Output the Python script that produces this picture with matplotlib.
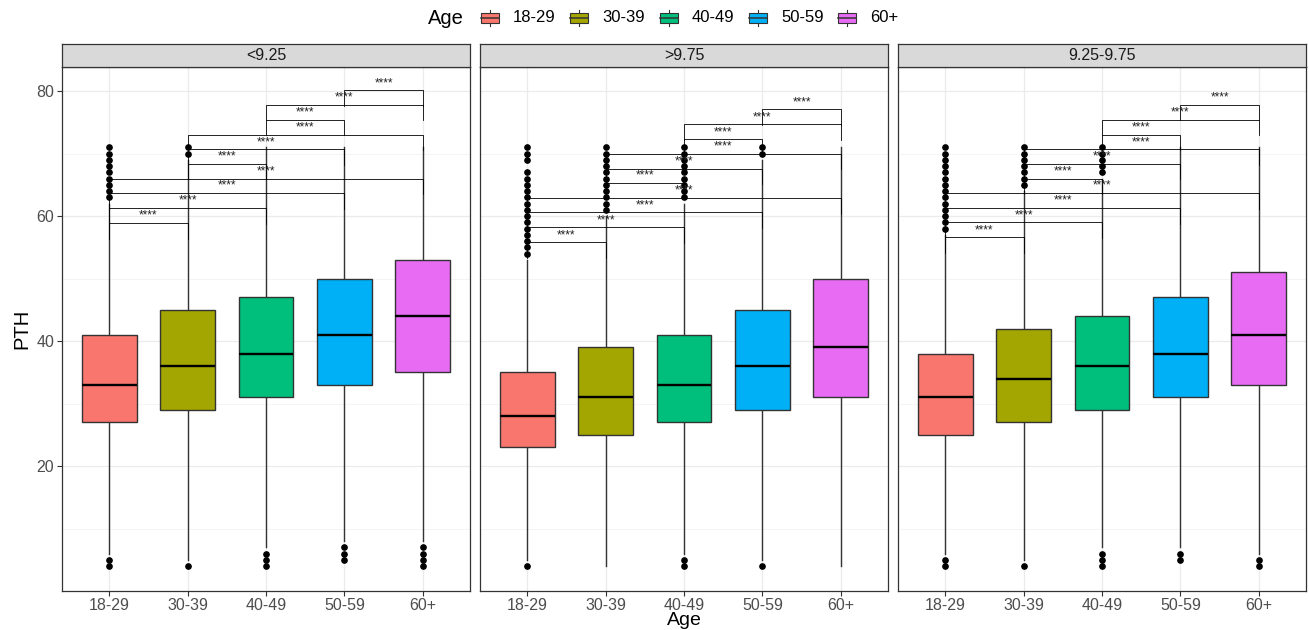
import matplotlib
matplotlib.use('Agg')
import matplotlib.pyplot as plt
from matplotlib.patches import Rectangle

plt.rcParams['font.family'] = ['Liberation Sans', 'DejaVu Sans']

groups = ['18-29', '30-39', '40-49', '50-59', '60+']
colors = ['#F8766D', '#A3A500', '#00BF7D', '#00B0F6', '#E76BF3']
panels = ['<9.25', '>9.75', '9.25-9.75']

# box statistics, per panel
q1 = {'<9.25': [27, 29, 31, 33, 35], '>9.75': [23, 25, 27, 29, 31], '9.25-9.75': [25, 27, 29, 31, 33]}
med = {'<9.25': [33, 36, 38, 41, 44], '>9.75': [28, 31, 33, 36, 39], '9.25-9.75': [31, 34, 36, 38, 41]}
q3 = {'<9.25': [41, 45, 47, 50, 53], '>9.75': [35, 39, 41, 45, 50], '9.25-9.75': [38, 42, 44, 47, 51]}
whislo = {'<9.25': [6, 5, 7, 8, 8], '>9.75': [5, 4, 6, 5, 4], '9.25-9.75': [6, 5, 7, 7, 6]}
whishi = {'<9.25': [62, 69, 71, 71, 71], '>9.75': [53, 60, 62, 69, 71], '9.25-9.75': [57, 64, 66, 71, 71]}
outliers = {
    '<9.25': [[4, 5, 63, 64, 65, 66, 67, 68, 69, 70, 71],
              [4, 70, 71],
              [4, 5, 6],
              [5, 6, 7],
              [4, 5, 6, 7]],
    '>9.75': [[4, 54, 55, 56, 57, 58, 59, 60, 61, 62, 63, 64, 65, 66, 67, 69, 70, 71],
              [61, 62, 63, 64, 65, 66, 67, 68, 69, 70, 71],
              [4, 5, 63, 64, 65, 66, 67, 68, 69, 70, 71],
              [4, 70, 71],
              []],
    '9.25-9.75': [[4, 5, 58, 59, 60, 61, 62, 63, 64, 65, 66, 67, 68, 69, 70, 71],
                  [4, 65, 66, 67, 68, 69, 70, 71],
                  [4, 5, 6, 67, 68, 69, 70, 71],
                  [5, 6],
                  [4, 5]],
}

# pairwise comparisons (group index pairs) and bracket heights
comparisons = [(0, 1), (0, 2), (0, 3), (0, 4), (1, 2), (1, 3), (1, 4), (2, 3), (2, 4), (3, 4)]
bracket_y = {
    '<9.25': [58.9, 61.3, 63.7, 66.0, 68.4, 70.7, 73.0, 75.4, 77.8, 80.1],
    '>9.75': [55.8, 58.2, 60.6, 62.9, 65.3, 67.6, 70.0, 72.3, 74.7, 77.1],
    '9.25-9.75': [56.6, 59.0, 61.3, 63.7, 66.0, 68.4, 70.7, 73.0, 75.4, 77.8],
}
sig_label = '****'

W, H = 1309, 630
fig = plt.figure(figsize=(W / 100, H / 100), dpi=100)

panel_left = [62, 480, 898]
panel_w = 408
panel_top, panel_bot = 66.7, 590.7
strip_h = 23

for k, p in enumerate(panels):
    ax = fig.add_axes([panel_left[k] / W, 1 - panel_bot / H, panel_w / W, (panel_bot - panel_top) / H])
    stats = []
    for i, g in enumerate(groups):
        stats.append(dict(q1=q1[p][i], med=med[p][i], q3=q3[p][i],
                          whislo=whislo[p][i], whishi=whishi[p][i],
                          fliers=outliers[p][i], label=g))
    bp = ax.bxp(stats, positions=range(1, 6), widths=0.7, patch_artist=True,
                showcaps=False,
                boxprops=dict(edgecolor='#333333', linewidth=1.0),
                medianprops=dict(color='black', linewidth=1.7),
                whiskerprops=dict(color='#333333', linewidth=1.0),
                flierprops=dict(marker='o', markerfacecolor='black', markeredgecolor='black',
                                markersize=3.8, linestyle='none'))
    for patch, c in zip(bp['boxes'], colors):
        patch.set_facecolor(c)
    for w in bp['whiskers']:
        w.set_zorder(1)

    # significance brackets
    tip = 2.5
    for (a, b), yb in zip(comparisons, bracket_y[p]):
        xa, xb = a + 1, b + 1
        ax.plot([xa, xa, xb, xb], [yb - tip, yb, yb, yb - tip], color='black', lw=0.6, zorder=3)
        ax.text((xa + xb) / 2, yb + 0.2, sig_label, ha='center', va='bottom', fontsize=8.5,
                color='#222222', zorder=4)

    ax.set_xlim(0.4, 5.6)
    ax.set_ylim(0.05, 83.9)
    ax.set_yticks([20, 40, 60, 80])
    ax.set_yticks([10, 30, 50, 70], minor=True)
    ax.set_xticks(range(1, 6))
    ax.set_xticklabels(groups)
    ax.grid(True, which='major', color='#EBEBEB', lw=0.9, zorder=0)
    ax.grid(True, which='minor', axis='y', color='#F2F2F2', lw=0.6, zorder=0)
    ax.set_axisbelow(True)
    ax.tick_params(axis='both', which='major', length=3.5, width=0.8, color='#333333',
                   labelcolor='#4D4D4D', labelsize=11.5, pad=2)
    ax.tick_params(axis='both', which='minor', length=0)
    if k > 0:
        ax.tick_params(axis='y', which='major', labelleft=False, length=0)
    for s in ax.spines.values():
        s.set_color('#333333')
        s.set_linewidth(0.9)
    if k == 0:
        ax.set_ylabel('PTH', fontsize=14.5, labelpad=4)
    if k == 1:
        ax.set_xlabel('Age', fontsize=14)
        ax.xaxis.set_label_coords(0.5, -0.041)

    sax = fig.add_axes([panel_left[k] / W, 1 - panel_top / H, panel_w / W, strip_h / H])
    sax.set_facecolor('#D9D9D9')
    sax.set_xticks([])
    sax.set_yticks([])
    for s in sax.spines.values():
        s.set_color('#333333')
        s.set_linewidth(0.9)
    sax.text(0.5, 0.5, p, ha='center', va='center', fontsize=11.5, color='#1A1A1A',
             transform=sax.transAxes)

# legend drawn in a pixel-space band at the top
lax = fig.add_axes([0, 1 - 38 / H, 1, 38 / H])
lax.set_xlim(0, W)
lax.set_ylim(38, 0)
lax.axis('off')
lax.text(428, 18, 'Age', ha='left', va='center', fontsize=14.5)
key_x0, key_step, key_w, key_h, yc = 481, 89.3, 18, 10, 18
for i, (g, c) in enumerate(zip(groups, colors)):
    x = key_x0 + i * key_step
    lax.plot([x + key_w / 2] * 2, [yc - 8, yc + 8], color='#333333', lw=0.8)
    lax.add_patch(Rectangle((x, yc - key_h / 2), key_w, key_h, facecolor=c,
                            edgecolor='#333333', lw=0.8, zorder=3))
    lax.plot([x, x + key_w], [yc, yc], color='#333333', lw=1.1, zorder=4)
    lax.text(x + key_w + 14, yc, g, ha='left', va='center', fontsize=12, color='black')

fig.savefig('out.png', dpi=100)
